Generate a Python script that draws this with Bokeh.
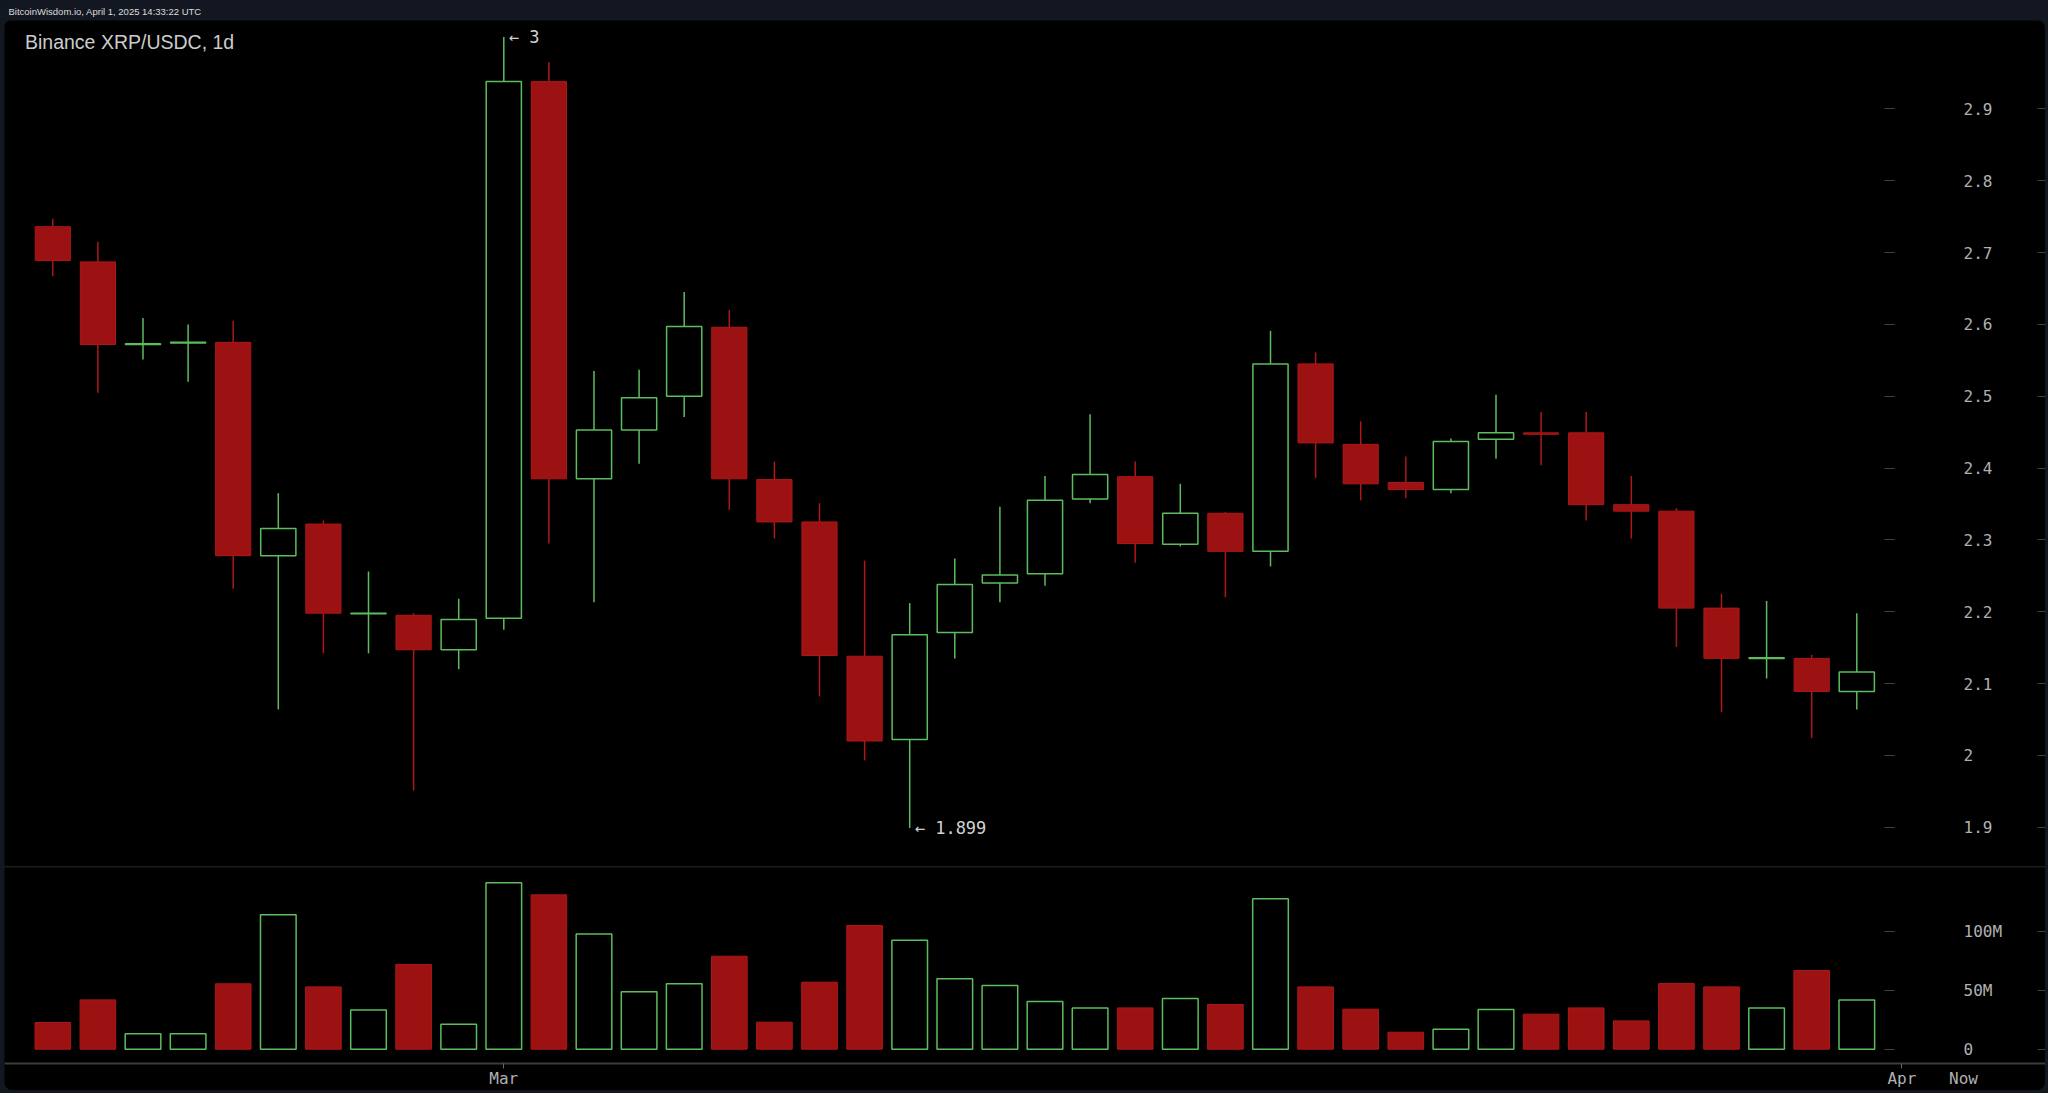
import numpy as np
import pandas as pd
from bokeh.plotting import figure
from bokeh.models import (Range1d, LinearAxis, FixedTicker, CustomJSTickFormatter,
                          Label, Span, ColumnDataSource, Spacer)
from bokeh.layouts import column, row
from bokeh.embed import file_html
from bokeh.resources import INLINE
from bokeh.core.properties import value

# ---------------- data (Binance XRP/USDC daily) ----------------
dates = pd.date_range("2025-02-19", "2025-03-31", freq="D").strftime("%Y-%m-%d").tolist()
opens = [2.736, 2.687, 2.572, 2.574, 2.575, 2.278, 2.322, 2.197, 2.195, 2.147,
         2.191, 2.938, 2.385, 2.453, 2.500, 2.596, 2.384, 2.325, 2.138, 2.022,
         2.171, 2.240, 2.253, 2.357, 2.388, 2.294, 2.337, 2.284, 2.545, 2.433,
         2.380, 2.370, 2.440, 2.449, 2.449, 2.349, 2.340, 2.205, 2.135, 2.135, 2.089]
highs = [2.747, 2.715, 2.609, 2.600, 2.605, 2.365, 2.327, 2.256, 2.198, 2.218,
         3.000, 2.965, 2.535, 2.537, 2.645, 2.620, 2.409, 2.351, 2.271, 2.212,
         2.274, 2.346, 2.389, 2.475, 2.409, 2.378, 2.339, 2.591, 2.561, 2.465,
         2.416, 2.441, 2.502, 2.478, 2.478, 2.389, 2.344, 2.225, 2.215, 2.140, 2.198]
lows = [2.667, 2.505, 2.551, 2.520, 2.232, 2.064, 2.142, 2.142, 1.951, 2.120,
        2.175, 2.295, 2.213, 2.406, 2.471, 2.342, 2.302, 2.082, 1.993, 1.899,
        2.135, 2.213, 2.236, 2.351, 2.268, 2.291, 2.220, 2.263, 2.386, 2.355,
        2.358, 2.365, 2.413, 2.404, 2.327, 2.302, 2.151, 2.060, 2.107, 2.024, 2.064]
closes = [2.689, 2.572, 2.573, 2.575, 2.278, 2.316, 2.198, 2.198, 2.147, 2.189,
          2.938, 2.385, 2.453, 2.498, 2.597, 2.385, 2.325, 2.139, 2.020, 2.168,
          2.238, 2.251, 2.355, 2.391, 2.295, 2.337, 2.284, 2.545, 2.435, 2.378,
          2.370, 2.437, 2.449, 2.447, 2.349, 2.340, 2.205, 2.135, 2.136, 2.089, 2.116]
volumes_m = [22.6, 41.8, 13.0, 13.0, 55.4, 114.0, 52.8, 33.3, 71.8, 21.2,
             141.0, 130.8, 97.7, 48.6, 55.4, 78.8, 22.9, 56.8, 104.8, 92.4,
             59.6, 54.0, 40.4, 35.0, 35.0, 43.0, 37.9, 127.4, 52.8, 33.9,
             14.4, 17.0, 33.6, 29.7, 35.0, 24.0, 55.6, 52.8, 35.0, 66.7, 41.8]

price_ticks = [1.9, 2.0, 2.1, 2.2, 2.3, 2.4, 2.5, 2.6, 2.7, 2.8, 2.9]
volume_ticks = [0, 50e6, 100e6]
date_tick_dates = ["2025-03-01", "2025-04-01"]
date_tick_labels = ["Mar", "Apr"]
now_label = "Now"
title_text = "Binance XRP/USDC, 1d"
header_text = "BitcoinWisdom.io, April 1, 2025 14:33:22 UTC"

# ---------------- styles / layout ----------------
NAVY = "#131722"
GREEN = "#5cbd5c"
RED_FILL = "#9c1111"
RED_LINE = "#ad1818"
LABEL_C = "#b0b0b0"
TICK_C = "#404040"
LINE_C = "#3c3c3c"
MONO = "DejaVu Sans Mono"

PAD_L = 4            # navy strip left of the panel
W = 2041             # panel width
HEADER_H = 20
PRICE_H = 847
VOL_H = 223
XAXIS_PX = 196       # px from top of volume panel to the date axis line

X0 = 48.3        # px of first candle inside panel
STEP = 45.1      # px per day
Y_29 = 88.4      # px from top of price frame to the 2.9 level
PPU = 718.3      # px per 1.0 of price
VOL_ZERO = 181.7 # px from top of volume frame to zero
PPM = 1.18       # px per 1M volume

t0 = pd.Timestamp(dates[0])
x = np.array([(pd.Timestamp(d) - t0).days for d in dates], dtype=float)
o = np.array(opens); h = np.array(highs); l = np.array(lows); c = np.array(closes)
v = np.array(volumes_m) * 1e6
top = np.maximum(o, c); bot = np.minimum(o, c)
up = c >= o

def src(mask):
    return ColumnDataSource(dict(x=x[mask], high=h[mask], low=l[mask], top=top[mask],
                                 bot=bot[mask], vol=v[mask]))
g_src, r_src = src(up), src(~up)

def px_to_x(px):
    return (px - X0) / STEP

def px_to_vol(py):
    return (VOL_ZERO - py) / PPM * 1e6

xr = Range1d(px_to_x(0), px_to_x(W))
AXIS_X = px_to_x(1880)
EDGE_X = px_to_x(2033)
LABEL_COL_X = px_to_x(1959)
price_range = Range1d(2.9 - (PRICE_H - Y_29) / PPU, 2.9 + Y_29 / PPU)
vol_range = Range1d(px_to_vol(VOL_H), px_to_vol(0))
XAXIS_Y = px_to_vol(XAXIS_PX)

def base_fig(height, yr):
    f = figure(width=W, height=height, x_range=xr, y_range=yr, output_backend="svg",
               toolbar_location=None, x_axis_location=None, y_axis_location=None,
               min_border=0, background_fill_color="black", border_fill_color="black",
               outline_line_color=None)
    f.grid.visible = False
    return f

def add_value_axis(f, ticks, code):
    ax = LinearAxis(ticker=FixedTicker(ticks=ticks),
                    formatter=CustomJSTickFormatter(code=code),
                    fixed_location=AXIS_X, axis_line_color=None,
                    major_tick_in=0, major_tick_out=10, major_tick_line_color=TICK_C,
                    minor_tick_line_color=None, major_label_standoff=69,
                    major_label_text_align="center",
                    major_label_text_font=MONO, major_label_text_font_size="16px",
                    major_label_text_color=LABEL_C)
    f.add_layout(ax, "right")
    edge = LinearAxis(ticker=FixedTicker(ticks=ticks), fixed_location=EDGE_X,
                      axis_line_color=None, major_tick_in=0, major_tick_out=8,
                      major_tick_line_color=TICK_C, minor_tick_line_color=None,
                      major_label_text_color=None, major_label_text_font_size="1px")
    f.add_layout(edge, "right")

# ---------------- header ----------------
hp = figure(width=W + PAD_L, height=HEADER_H, x_range=Range1d(0, 1), y_range=Range1d(0, 1),
            output_backend="svg", toolbar_location=None, x_axis_location=None,
            y_axis_location=None, min_border=0, background_fill_color=NAVY,
            border_fill_color=NAVY, outline_line_color=None)
hp.grid.visible = False
hp.add_layout(Label(x=8, y=HEADER_H - 11, x_units="screen", y_units="screen",
                    text=header_text, text_font="Liberation Sans", text_font_size="9.5px",
                    text_color="#dcdcdc", text_baseline="middle"))

# ---------------- price ----------------
pp = base_fig(PRICE_H, price_range)
pp.styles = {"border-radius": "8px 8px 0 0", "overflow": "hidden"}
add_value_axis(pp, price_ticks, "return String(Math.round(tick*10)/10)")

for s, col in ((g_src, GREEN), (r_src, RED_LINE)):
    pp.segment(x0="x", y0="high", x1="x", y1="top", source=s, line_color=col, line_width=1.5)
    pp.segment(x0="x", y0="bot", x1="x", y1="low", source=s, line_color=col, line_width=1.5)
pp.vbar(x="x", width=0.78, top="top", bottom="bot", source=g_src,
        fill_color=None, line_color=GREEN, line_width=1.5)
pp.vbar(x="x", width=0.78, top="top", bottom="bot", source=r_src,
        fill_color=RED_FILL, line_color=RED_LINE, line_width=1.0)

imax, imin = int(np.argmax(h)), int(np.argmin(l))
pp.text(x=[x[imax], x[imin]], y=[h[imax], l[imin]],
        text=[f"\u2190 {h[imax]:g}", f"\u2190 {l[imin]:g}"], x_offset=5,
        text_baseline="middle", text_align="left", text_font=value(MONO),
        text_font_size="17px", text_color="#d2d2d2")

pp.add_layout(Label(x=20.5, y=PRICE_H - 21.7, x_units="screen", y_units="screen",
                    text=title_text, text_font="Liberation Sans", text_font_size="19.5px",
                    text_color="#cccccc", text_baseline="middle"))
pp.add_layout(Span(location=price_range.start, dimension="width",
                   line_color=LINE_C, line_width=2))

# ---------------- volume ----------------
vp = base_fig(VOL_H, vol_range)
vp.styles = {"border-radius": "0 0 8px 8px", "overflow": "hidden"}
add_value_axis(vp, volume_ticks, "return tick == 0 ? '0' : (tick/1e6).toFixed(0) + 'M'")

vp.vbar(x="x", width=0.79, top="vol", bottom=0, source=g_src,
        fill_color=None, line_color=GREEN, line_width=1.5)
vp.vbar(x="x", width=0.79, top="vol", bottom=0, source=r_src,
        fill_color=RED_FILL, line_color=RED_LINE, line_width=1.0)

tick_pos = [float((pd.Timestamp(d) - t0).days) for d in date_tick_dates]
date_ax = LinearAxis(ticker=FixedTicker(ticks=tick_pos),
                     major_label_overrides={tp: lab for tp, lab in zip(tick_pos, date_tick_labels)},
                     fixed_location=XAXIS_Y, axis_line_color=LINE_C, axis_line_width=2,
                     major_tick_in=0, major_tick_out=5, major_tick_line_color="#666666",
                     minor_tick_line_color=None, major_label_standoff=0,
                     major_label_text_font=MONO, major_label_text_font_size="16px",
                     major_label_text_color=LABEL_C)
vp.add_layout(date_ax, "below")

now_ax = LinearAxis(ticker=FixedTicker(ticks=[LABEL_COL_X]),
                    formatter=CustomJSTickFormatter(args=dict(lab=now_label), code="return lab"),
                    fixed_location=XAXIS_Y, axis_line_color=None,
                    major_tick_in=0, major_tick_out=5, major_tick_line_color=None,
                    minor_tick_line_color=None, major_label_standoff=0,
                    major_label_text_font=MONO, major_label_text_font_size="16px",
                    major_label_text_color=LABEL_C)
vp.add_layout(now_ax, "below")

layout = column(hp, row(Spacer(width=PAD_L, height=PRICE_H + VOL_H),
                        column(pp, vp, spacing=0), spacing=0), spacing=0)
html = file_html(layout, INLINE, title=title_text)
html = html.replace("</head>", "<style>html,body{background:%s;}</style></head>" % NAVY, 1)
open("out.html", "w").write(html)
